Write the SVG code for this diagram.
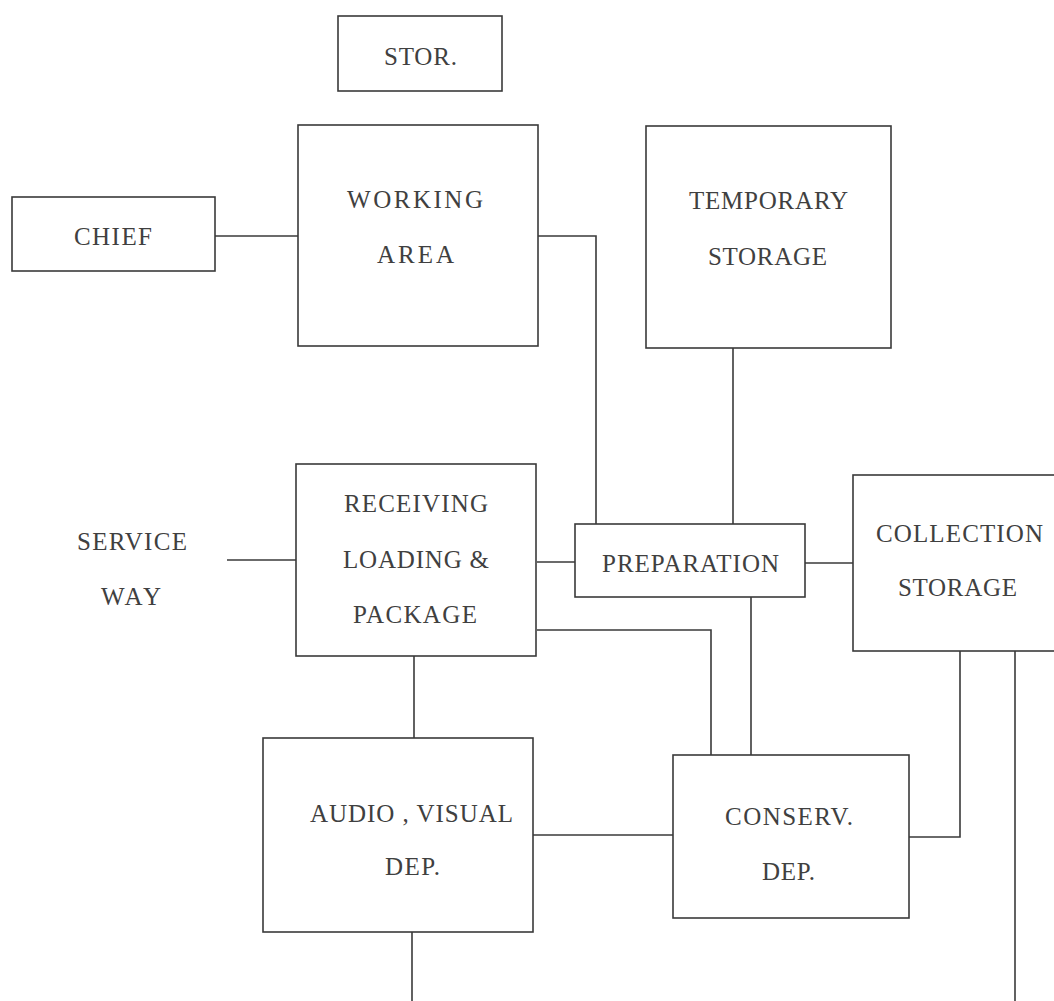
<svg xmlns="http://www.w3.org/2000/svg" width="1054" height="1001" viewBox="0 0 1054 1001">
  <style>
    .box { fill: #ffffff; stroke: #3a3a3a; stroke-width: 1.6; }
    .wire { fill: none; stroke: #3a3a3a; stroke-width: 1.6; }
    .lbl { font-family: "Liberation Serif", "Times New Roman", serif; font-size: 25px; fill: #404040; }
  </style>
  <rect width="1054" height="1001" fill="#ffffff"/>

  <g id="connectors">
    <line class="wire" x1="215" y1="236" x2="298" y2="236"/>
    <polyline class="wire" points="538,236 596,236 596,524"/>
    <line class="wire" x1="733" y1="348" x2="733" y2="524"/>
    <line class="wire" x1="227" y1="560" x2="296" y2="560"/>
    <line class="wire" x1="537" y1="562" x2="575" y2="562"/>
    <line class="wire" x1="805" y1="563" x2="853" y2="563"/>
    <polyline class="wire" points="537,630 711,630 711,755"/>
    <line class="wire" x1="751" y1="597" x2="751" y2="755"/>
    <line class="wire" x1="414" y1="656" x2="414" y2="738"/>
    <line class="wire" x1="533" y1="835" x2="673" y2="835"/>
    <polyline class="wire" points="909,837 960,837 960,651"/>
    <line class="wire" x1="1015" y1="651" x2="1015" y2="1001"/>
    <line class="wire" x1="412" y1="932" x2="412" y2="1001"/>
  </g>

  <g id="stor">
    <rect class="box" x="338" y="16" width="164" height="75"/>
    <text class="lbl" x="384" y="65" textLength="73">STOR.</text>
  </g>

  <g id="chief">
    <rect class="box" x="12" y="197" width="203" height="74"/>
    <text class="lbl" x="74" y="245" textLength="78">CHIEF</text>
  </g>

  <g id="working-area">
    <rect class="box" x="298" y="125" width="240" height="221"/>
    <text class="lbl" x="347" y="208" textLength="136">WORKING</text>
    <text class="lbl" x="377" y="263" textLength="77">AREA</text>
  </g>

  <g id="temporary-storage">
    <rect class="box" x="646" y="126" width="245" height="222"/>
    <text class="lbl" x="689" y="209" textLength="159">TEMPORARY</text>
    <text class="lbl" x="708" y="265" textLength="119">STORAGE</text>
  </g>

  <g id="service-way">
    <text class="lbl" x="77" y="550" textLength="110">SERVICE</text>
    <text class="lbl" x="101" y="605" textLength="60">WAY</text>
  </g>

  <g id="receiving">
    <rect class="box" x="296" y="464" width="240" height="192"/>
    <text class="lbl" x="344" y="512" textLength="144">RECEIVING</text>
    <text class="lbl" x="343" y="568" textLength="146">LOADING &amp;</text>
    <text class="lbl" x="353" y="623" textLength="124">PACKAGE</text>
  </g>

  <g id="preparation">
    <rect class="box" x="575" y="524" width="230" height="73"/>
    <text class="lbl" x="602" y="572" textLength="177">PREPARATION</text>
  </g>

  <g id="collection-storage">
    <rect class="box" x="853" y="475" width="205" height="176"/>
    <text class="lbl" x="876" y="542" textLength="167">COLLECTION</text>
    <text class="lbl" x="898" y="596" textLength="119">STORAGE</text>
  </g>

  <g id="audio-visual">
    <rect class="box" x="263" y="738" width="270" height="194"/>
    <text class="lbl" x="310" y="822" textLength="203">AUDIO , VISUAL</text>
    <text class="lbl" x="385" y="875" textLength="55">DEP.</text>
  </g>

  <g id="conservation">
    <rect class="box" x="673" y="755" width="236" height="163"/>
    <text class="lbl" x="725" y="825" textLength="128">CONSERV.</text>
    <text class="lbl" x="762" y="880" textLength="53">DEP.</text>
  </g>
</svg>
